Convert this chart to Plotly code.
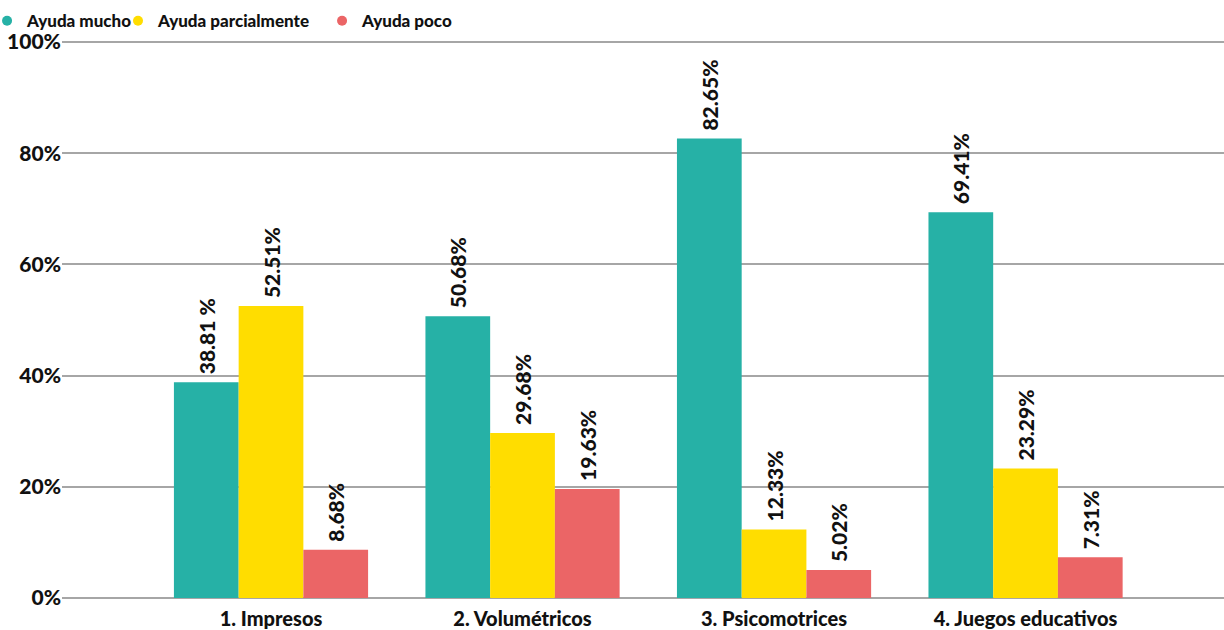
import plotly.graph_objects as go

categories = ["1. Impresos", "2. Volumétricos", "3. Psicomotrices", "4. Juegos educativos"]
series_names = ["Ayuda mucho", "Ayuda parcialmente", "Ayuda poco"]
ayuda_mucho = [38.81, 50.68, 82.65, 69.41]
ayuda_parcial = [52.51, 29.68, 12.33, 23.29]
ayuda_poco = [8.68, 19.63, 5.02, 7.31]
labels_mucho = ["38.81 %", "50.68%", "82.65%", "69.41%"]
labels_parcial = ["52.51%", "29.68%", "12.33%", "23.29%"]
labels_poco = ["8.68%", "19.63%", "5.02%", "7.31%"]
y_ticks = [0, 20, 40, 60, 80, 100]
y_ticklabels = ["0%", "20%", "40%", "60%", "80%", "100%"]

colors = ["#26b1a6", "#ffdd00", "#eb6566"]
FONT = "Lato, 'Open Sans', sans-serif"
legend_ids = ["legend", "legend2", "legend3"]
legend_x = [-0.0645, 0.0482, 0.2238]

fig = go.Figure()
for name, vals, labs, col, lid in zip(series_names,
                                      [ayuda_mucho, ayuda_parcial, ayuda_poco],
                                      [labels_mucho, labels_parcial, labels_poco],
                                      colors, legend_ids):
    fig.add_trace(go.Bar(
        x=categories, y=vals, name=name, marker_color=col, marker_line_width=0,
        text=labs, texttemplate="\u00a0%{text}",
        textposition="outside", textangle=-90, constraintext="none",
        textfont=dict(family=FONT, size=21, color="#111111", weight=900),
        cliponaxis=False, showlegend=False,
    ))
    fig.add_trace(go.Scatter(
        x=[None], y=[None], mode="markers", name=name, legend=lid,
        marker=dict(color=col, size=10, symbol="circle"), showlegend=True,
    ))

legend_style = dict(orientation="h", xref="paper", xanchor="left",
                    yref="container", y=0.995, yanchor="top",
                    font=dict(family=FONT, size=17, color="#111111", weight=900),
                    itemwidth=30, tracegroupgap=0, bgcolor="rgba(0,0,0,0)")

fig.update_layout(
    width=1224, height=630,
    margin=dict(l=62, r=0, t=41, b=32, autoexpand=False),
    paper_bgcolor="white", plot_bgcolor="white",
    barmode="group", bargap=0.228, bargroupgap=0,
    font=dict(family=FONT, color="#111111"),
    legend=dict(legend_style, x=legend_x[0]),
    legend2=dict(legend_style, x=legend_x[1]),
    legend3=dict(legend_style, x=legend_x[2]),
)
fig.update_xaxes(range=[-0.831, 3.789], showgrid=False, showline=False, ticks="",
                 automargin=False, ticklabelstandoff=7,
                 tickfont=dict(family=FONT, size=20, color="#111111", weight=900))
fig.update_yaxes(range=[0, 100.2], tickvals=y_ticks, ticktext=y_ticklabels,
                 showgrid=True, gridcolor="#a6a6a6", gridwidth=2,
                 zeroline=True, zerolinecolor="#a6a6a6", zerolinewidth=2,
                 ticks="", ticklen=0, automargin=False,
                 tickfont=dict(family=FONT, size=21, color="#111111", weight=900))

fig.write_html("out.html", config={"displayModeBar": False},
               post_script="document.body.style.margin='0px';document.body.style.overflow='hidden';")
